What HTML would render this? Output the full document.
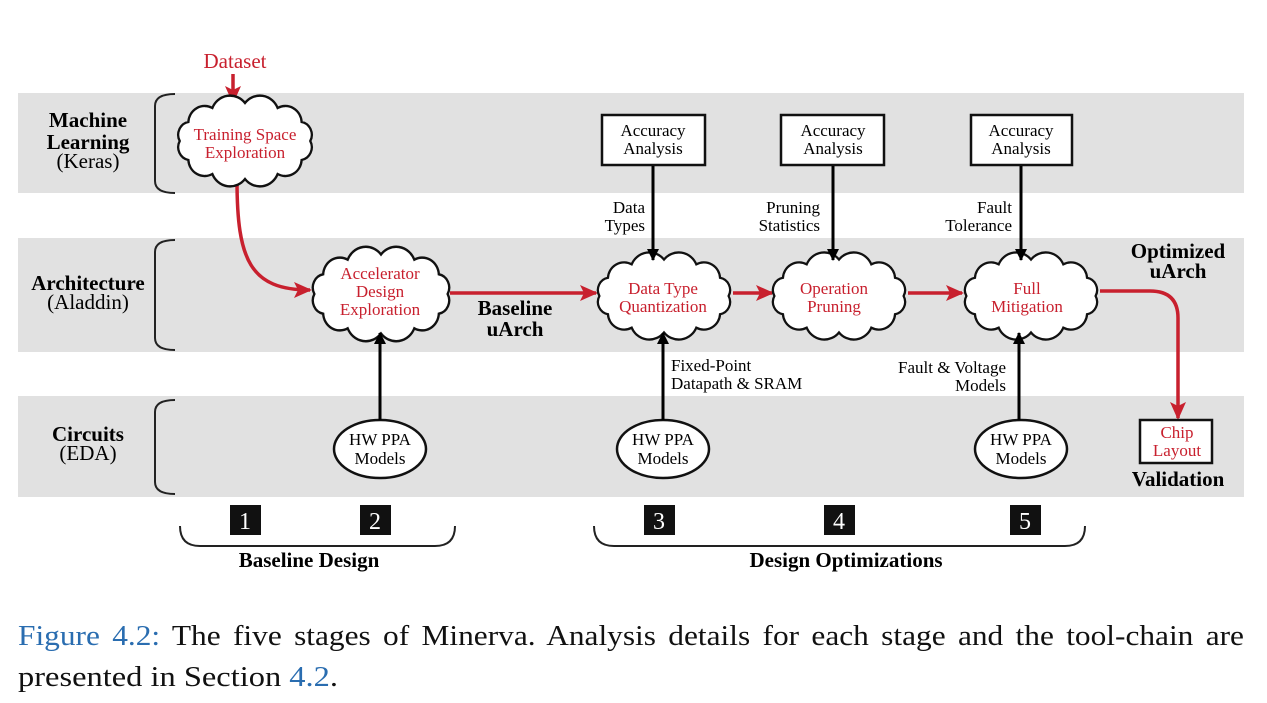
<!DOCTYPE html>
<html><head><meta charset="utf-8"><style>
html,body{margin:0;padding:0;background:#fff;width:1267px;height:703px;overflow:hidden}
svg{display:block}
text{font-family:"Liberation Serif",serif}
.r{fill:#c8202e}
.b{font-weight:bold}
</style></head><body>
<svg width="1267" height="703" viewBox="0 0 1267 703" xmlns="http://www.w3.org/2000/svg">
<defs>
<path id="cl" d="M-68,0 A13 13 0 0 1 -59,-19 A17 17 0 0 1 -34,-33 A20 20 0 0 1 0,-38 A20 20 0 0 1 34,-33 A17 17 0 0 1 59,-19 A13 13 0 0 1 68,0 A13 13 0 0 1 59,19 A17 17 0 0 1 34,33 A20 20 0 0 1 0,38 A20 20 0 0 1 -34,33 A17 17 0 0 1 -59,19 A13 13 0 0 1 -68,0 Z" fill="#fff" stroke="#111" stroke-width="2.4"/>
<marker id="ar" markerWidth="18" markerHeight="16" refX="16" refY="8" orient="auto" markerUnits="userSpaceOnUse"><path d="M0,0 L18,8 L0,16 L4,8 z" fill="#c8202e"/></marker>
<marker id="ak" markerWidth="12" markerHeight="12" refX="11" refY="6" orient="auto" markerUnits="userSpaceOnUse"><path d="M0,0 L12,6 L0,12 z" fill="#000"/></marker>
</defs>
<rect x="18" y="93" width="1226" height="100" fill="#e1e1e1"/>
<rect x="18" y="238" width="1226" height="114" fill="#e1e1e1"/>
<rect x="18" y="396" width="1226" height="101" fill="#e1e1e1"/>
<g fill="none" stroke="#222" stroke-width="2">
<path d="M175,94 q-20,0 -20,12 v75 q0,12 20,12"/>
<path d="M175,240 q-20,0 -20,12 v86 q0,12 20,12"/>
<path d="M175,400 q-20,0 -20,12 v70 q0,12 20,12"/>
<path d="M180,526 q0,20 20,20 h235 q20,0 20,-20"/>
<path d="M594,526 q0,20 20,20 h451 q20,0 20,-20"/>
</g>
<g font-size="21" text-anchor="middle" class="b">
<text x="88" y="127">Machine</text><text x="88" y="149">Learning</text>
<text x="88" y="290">Architecture</text>
<text x="88" y="441">Circuits</text>
<text x="309" y="567">Baseline Design</text>
<text x="846" y="567">Design Optimizations</text>
<text x="515" y="315">Baseline</text><text x="515" y="336">uArch</text>
<text x="1178" y="258">Optimized</text><text x="1178" y="278">uArch</text>
<text x="1178" y="486">Validation</text>
</g>
<g font-size="21" text-anchor="middle">
<text x="88" y="168">(Keras)</text>
<text x="88" y="309">(Aladdin)</text>
<text x="88" y="460">(EDA)</text>
</g>
<text x="235" y="68" font-size="21" text-anchor="middle" class="r">Dataset</text>
<g fill="none" stroke="#c8202e" stroke-width="3.5">
<path d="M233,74 V102" marker-end="url(#ar)"/>
<path d="M237,180 C237,260 250,290 310,290" marker-end="url(#ar)"/>
<path d="M450,293 H596" marker-end="url(#ar)"/>
<path d="M733,293 H772" marker-end="url(#ar)"/>
<path d="M908,293 H962" marker-end="url(#ar)"/>
<path d="M1100,291 H1150 Q1178,291 1178,318 V418" marker-end="url(#ar)"/>
</g>
<use href="#cl" transform="translate(245,141) scale(0.96,1.0)"/>
<use href="#cl" transform="translate(381,294) scale(0.98,1.04)"/>
<use href="#cl" transform="translate(664,296) scale(0.95,0.96)"/>
<use href="#cl" transform="translate(839,296) scale(0.95,0.96)"/>
<use href="#cl" transform="translate(1031,296) scale(0.95,0.96)"/>
<g font-size="17" text-anchor="middle" class="r">
<text x="245" y="140">Training Space</text><text x="245" y="158">Exploration</text>
<text x="380" y="279">Accelerator</text><text x="380" y="297">Design</text><text x="380" y="315">Exploration</text>
<text x="663" y="294">Data Type</text><text x="663" y="312">Quantization</text>
<text x="834" y="294">Operation</text><text x="834" y="312">Pruning</text>
<text x="1027" y="294">Full</text><text x="1027" y="312">Mitigation</text>
</g>
<g fill="#fff" stroke="#111" stroke-width="2.5">
<rect x="602" y="115" width="103" height="50"/>
<rect x="781" y="115" width="103" height="50"/>
<rect x="971" y="115" width="101" height="50"/>
<rect x="1140" y="420" width="72" height="43"/>
<ellipse cx="380" cy="449" rx="46" ry="29"/>
<ellipse cx="663" cy="449" rx="46" ry="29"/>
<ellipse cx="1021" cy="449" rx="46" ry="29"/>
</g>
<g font-size="17" text-anchor="middle">
<text x="653" y="136">Accuracy</text><text x="653" y="154">Analysis</text>
<text x="833" y="136">Accuracy</text><text x="833" y="154">Analysis</text>
<text x="1021" y="136">Accuracy</text><text x="1021" y="154">Analysis</text>
<text x="380" y="445">HW PPA</text><text x="380" y="464">Models</text>
<text x="663" y="445">HW PPA</text><text x="663" y="464">Models</text>
<text x="1021" y="445">HW PPA</text><text x="1021" y="464">Models</text>
</g>
<g font-size="17" text-anchor="middle" class="r"><text x="1177" y="438">Chip</text><text x="1177" y="456">Layout</text></g>
<g font-size="17" text-anchor="end">
<text x="645" y="213">Data</text><text x="645" y="231">Types</text>
<text x="820" y="213">Pruning</text><text x="820" y="231">Statistics</text>
<text x="1012" y="213">Fault</text><text x="1012" y="231">Tolerance</text>
<text x="1006" y="373">Fault &amp; Voltage</text><text x="1006" y="391">Models</text>
</g>
<g font-size="17"><text x="671" y="371">Fixed-Point</text><text x="671" y="389">Datapath &amp; SRAM</text></g>
<g stroke="#000" stroke-width="3" fill="none">
<path d="M653,166 V260" marker-end="url(#ak)"/>
<path d="M833,166 V260" marker-end="url(#ak)"/>
<path d="M1021,166 V260" marker-end="url(#ak)"/>
<path d="M380,420 V333" marker-end="url(#ak)"/>
<path d="M663,420 V333" marker-end="url(#ak)"/>
<path d="M1019,420 V333" marker-end="url(#ak)"/>
</g>
<g fill="#111">
<rect x="230" y="505" width="31" height="30"/><rect x="360" y="505" width="31" height="30"/>
<rect x="644" y="505" width="31" height="30"/><rect x="824" y="505" width="31" height="30"/>
<rect x="1010" y="505" width="31" height="30"/>
</g>
<g font-size="24" fill="#fff" text-anchor="middle">
<text x="245" y="529">1</text><text x="375" y="529">2</text><text x="659" y="529">3</text><text x="839" y="529">4</text><text x="1025" y="529">5</text>
</g>
<text x="18" y="645" font-size="28" fill="#111" textLength="1226" lengthAdjust="spacingAndGlyphs" word-spacing="4"><tspan fill="#2a6db0">Figure 4.2:</tspan> The five stages of Minerva. Analysis details for each stage and the tool-chain are</text>
<text x="18" y="686" font-size="28" fill="#111" textLength="320" lengthAdjust="spacingAndGlyphs">presented in Section <tspan fill="#2a6db0">4.2</tspan>.</text>
</svg>
</body></html>
